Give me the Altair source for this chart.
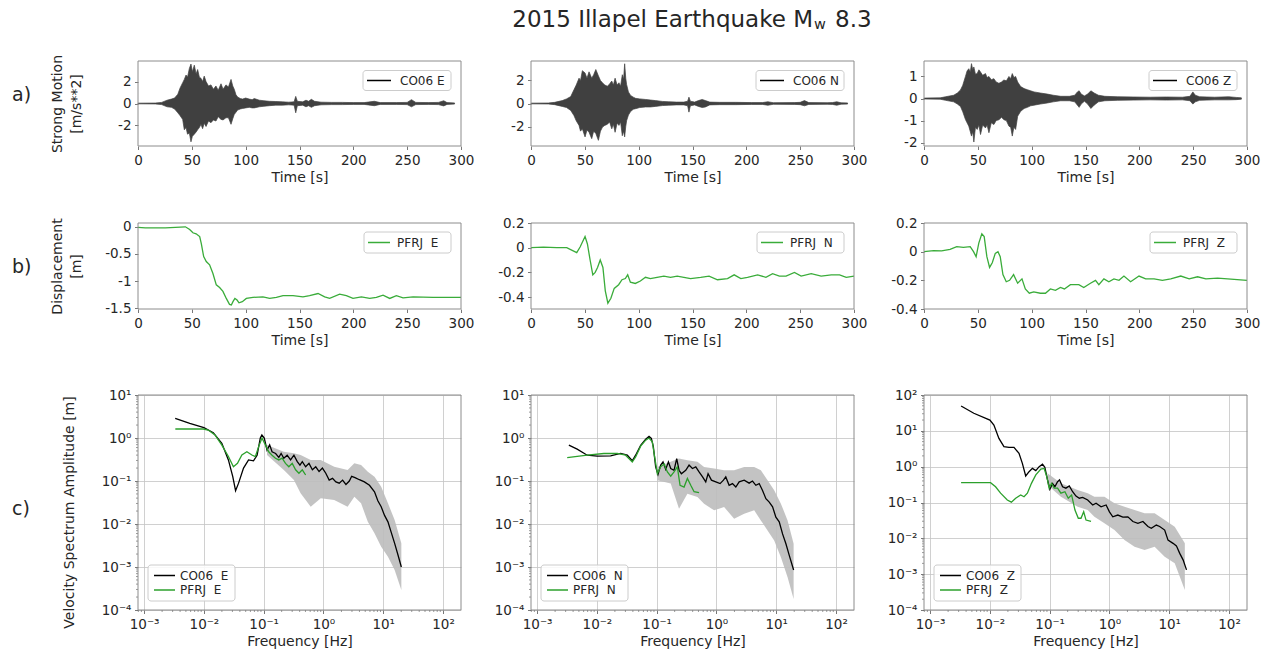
import altair as alt
import pandas as pd

FONT = "DejaVu Sans"
INK = "#262626"
FRAME = "#8c8c8c"
SEIS = "#404040"
GREEN_B = "#3aac3a"
GREEN_C = "#2ca02c"
BAND = "#bdbdbd"

W = 323
HA, HB, HC = 85, 86, 215
HB_PAD = 9  # extra room under row b so that row c starts lower

TIME_TICKS = [0, 50, 100, 150, 200, 250, 300]
FREQ_TICKS = [1e-3, 1e-2, 1e-1, 1, 10, 100]
FREQ_DOMAIN = [7.9e-4, 200]

# ---------------- row a: strong motion (envelope of the trace) ----------------
a_e_t = [0, 16, 22, 27, 31, 34, 37, 39, 41.5, 43, 44.6, 46, 47.7, 49.2, 50.5, 52.3, 54, 55.4, 57, 58.5,
         60, 61.5, 63.2, 65.5, 67.8, 70, 72.4, 74.5, 77.1, 79, 81.7, 84, 86.4, 88, 89.4, 91, 92.5, 95, 97.1, 100,
         103.3, 106, 108, 112.7, 117, 122, 128, 134, 140, 145, 146.5, 148, 153, 156, 158.5, 161, 164, 170, 180, 190,
         200, 210, 219.5, 225, 240, 250, 254, 258, 270, 279, 284, 287, 294]
a_e_up = [0.03, 0.04, 0.1, 0.3, 0.4, 0.5, 0.85, 1.4, 1.9, 2.2, 2.6, 2.4, 3.2, 3.6, 2.9, 3.5, 2.7, 3.1, 2.4, 2.3,
          2.0, 2.5, 2.0, 1.6, 1.7, 1.3, 1.6, 1.2, 1.8, 1.3, 1.7, 1.5, 2.2, 1.6, 1.3, 0.8, 0.6, 0.45, 0.4, 0.5,
          0.4, 0.35, 0.45, 0.3, 0.25, 0.2, 0.18, 0.15, 0.12, 0.15, 0.65, 0.2, 0.15, 0.3, 0.2, 0.38, 0.2, 0.12, 0.1, 0.1,
          0.08, 0.08, 0.2, 0.08, 0.08, 0.1, 0.35, 0.1, 0.08, 0.1, 0.25, 0.08, 0.05]
a_e_lo = [-0.03, -0.04, -0.1, -0.3, -0.35, -0.5, -0.85, -1.1, -1.45, -2.4, -2.2, -2.8, -2.7, -3.5, -3.0, -2.8, -2.6, -2.4, -2.2, -1.9,
          -2.3, -1.8, -2.1, -1.6, -1.75, -1.5, -1.6, -1.2, -1.45, -1.5, -1.3, -1.3, -1.9, -1.4, -1.0, -0.8, -0.6, -0.5, -0.45, -0.4,
          -0.35, -0.4, -0.4, -0.3, -0.25, -0.2, -0.15, -0.15, -0.12, -0.15, -0.85, -0.2, -0.15, -0.3, -0.2, -0.35, -0.2, -0.12, -0.1, -0.1,
          -0.08, -0.08, -0.2, -0.08, -0.08, -0.1, -0.3, -0.1, -0.08, -0.1, -0.22, -0.08, -0.05]

a_n_t = [0, 16, 22, 29, 33, 36.9, 39.9, 42, 44.6, 46, 47.7, 50.2, 52, 53.9, 56.4, 58.2, 60.2, 62.6, 64.5, 66.4,
         68.5, 71, 73, 75, 76.5, 78.1, 80, 81.7, 83.2, 84.8, 86, 87, 88, 88.8, 90.5, 92.5, 95, 97.1, 101, 106.4,
         111, 115.7, 122, 128, 135, 142, 145.5, 146.7, 148, 152, 155.5, 159, 162, 166, 175, 190, 205, 215, 220, 225,
         245, 250, 254, 258, 275, 280, 284, 288, 294]
a_n_up = [0.03, 0.04, 0.1, 0.25, 0.4, 0.6, 1.2, 1.6, 2.2, 2.0, 2.85, 2.65, 2.2, 2.75, 2.2, 2.5, 2.95, 2.4, 2.0, 1.8,
          1.6, 1.5, 1.7, 1.95, 1.6, 2.2, 1.6, 1.8, 1.5, 2.5, 2.1, 3.45, 2.2, 1.65, 1.0, 0.7, 0.55, 0.45, 0.4, 0.35,
          0.3, 0.25, 0.18, 0.15, 0.12, 0.12, 0.2, 0.55, 0.2, 0.12, 0.25, 0.35, 0.25, 0.12, 0.1, 0.1, 0.08, 0.08, 0.15, 0.07,
          0.08, 0.1, 0.25, 0.08, 0.07, 0.08, 0.15, 0.06, 0.05]
a_n_lo = [-0.03, -0.04, -0.1, -0.25, -0.35, -0.6, -1.05, -1.5, -1.9, -2.4, -2.2, -2.9, -2.3, -2.5, -3.05, -2.4, -2.6, -3.2, -2.4, -2.05,
          -1.9, -1.8, -1.6, -2.2, -1.8, -2.5, -1.7, -1.9, -1.6, -2.8, -2.4, -2.9, -2.0, -1.5, -1.0, -0.7, -0.5, -0.45, -0.35, -0.3,
          -0.3, -0.25, -0.18, -0.15, -0.12, -0.12, -0.2, -0.75, -0.2, -0.12, -0.25, -0.35, -0.3, -0.12, -0.1, -0.1, -0.08, -0.08, -0.15, -0.07,
          -0.08, -0.1, -0.2, -0.08, -0.07, -0.08, -0.15, -0.06, -0.05]

a_z_t = [0, 15, 20, 27.6, 31, 33.9, 36, 38.5, 40, 41.6, 43, 44.1, 45.3, 46.3, 47.8, 49.4, 51, 52.5, 54.5, 57.1,
         58.6, 60.3, 62.5, 64.9, 67, 69.6, 72, 74.2, 76.5, 78.9, 80.5, 82, 83.5, 85.1, 87, 89.8, 93, 96, 99, 102.2,
         108, 114.6, 120, 127, 135, 140, 142.5, 144.1, 146, 149, 152, 155, 158, 162, 168, 180, 195, 210, 225, 240,
         247, 249.7, 252, 256, 270, 283, 290, 294.8]
a_z_up = [0.02, 0.03, 0.08, 0.15, 0.25, 0.39, 0.6, 1.0, 1.25, 1.35, 1.2, 1.58, 1.3, 1.43, 1.1, 1.13, 1.3, 1.2, 1.05, 1.13,
          0.95, 1.0, 0.85, 0.9, 0.75, 0.69, 0.75, 0.84, 0.8, 1.0, 0.9, 1.13, 0.95, 1.0, 0.75, 0.54, 0.45, 0.4, 0.35, 0.3,
          0.25, 0.2, 0.15, 0.1, 0.1, 0.15, 0.3, 0.35, 0.2, 0.12, 0.2, 0.35, 0.25, 0.15, 0.1, 0.08, 0.07, 0.06, 0.07, 0.06,
          0.1, 0.3, 0.15, 0.08, 0.06, 0.08, 0.05, 0.03]
a_z_lo = [-0.02, -0.03, -0.08, -0.15, -0.25, -0.36, -0.6, -0.95, -1.1, -1.25, -1.5, -1.7, -1.5, -1.97, -1.3, -1.4, -1.2, -1.63, -1.2, -1.33,
          -1.2, -1.55, -1.1, -1.18, -1.0, -0.96, -0.85, -0.96, -1.0, -1.25, -1.3, -1.7, -1.3, -1.4, -0.8, -0.58, -0.45, -0.4, -0.33, -0.3,
          -0.25, -0.2, -0.15, -0.1, -0.1, -0.15, -0.3, -0.4, -0.25, -0.12, -0.25, -0.45, -0.3, -0.15, -0.1, -0.08, -0.07, -0.06, -0.07, -0.06,
          -0.1, -0.25, -0.15, -0.08, -0.06, -0.06, -0.05, -0.03]

# ---------------- row b: displacement ----------------
b_e_t = [0, 6.8, 25.4, 44, 48, 51, 54, 57.3, 58.8, 61, 63.4, 66.5, 69.6, 72.7, 75.8, 78.9, 82, 85, 86.7, 88.2,
         90, 92, 93.8, 96.9, 100.6, 106.8, 116, 122.3, 128.5, 134.7, 144, 153.2, 159.4, 167.2, 173.4, 178, 187.3, 193.5, 199.7, 207.5,
         215.2, 221.4, 227.6, 233.8, 240, 246.2, 255.5, 274.1, 300]
b_e_d = [-0.01, -0.02, -0.02, 0.0, -0.05, -0.11, -0.13, -0.18, -0.31, -0.55, -0.64, -0.70, -0.86, -1.07, -1.12, -1.19, -1.32, -1.43, -1.44, -1.38,
         -1.32, -1.35, -1.40, -1.38, -1.32, -1.30, -1.29, -1.32, -1.30, -1.27, -1.27, -1.29, -1.27, -1.23, -1.29, -1.32, -1.24, -1.27, -1.32, -1.29,
         -1.32, -1.30, -1.26, -1.32, -1.27, -1.31, -1.29, -1.30, -1.30]

b_n_t = [0, 11.5, 23.9, 33.2, 37.8, 42.5, 45.6, 50.2, 52.4, 54.9, 57.4, 59.6, 61.8, 64.3, 66.8, 69, 71.4, 74.2, 77.3, 81.4,
         84.5, 87.6, 89.8, 92.3, 96.9, 101.6, 106.3, 110.9, 117.1, 123.4, 129.6, 135.8, 142, 148.2, 157.6, 165.4, 173.2, 182.5, 188.7, 194.9,
         201.1, 210.5, 218.2, 224.4, 230.7, 236.9, 244.7, 250.9, 260.2, 269.5, 278.9, 286.6, 292.8, 300]
b_n_d = [0, 0.005, 0, 0, -0.02, -0.04, 0.005, 0.09, 0.03, -0.10, -0.22, -0.20, -0.16, -0.10, -0.16, -0.35, -0.45, -0.41, -0.33, -0.30,
         -0.26, -0.25, -0.22, -0.28, -0.29, -0.27, -0.24, -0.25, -0.24, -0.23, -0.24, -0.23, -0.24, -0.25, -0.24, -0.23, -0.26, -0.25, -0.22, -0.25,
         -0.24, -0.22, -0.24, -0.21, -0.23, -0.23, -0.20, -0.23, -0.21, -0.23, -0.22, -0.22, -0.24, -0.23]

b_z_t = [0, 9, 16.4, 24.2, 30.4, 36.6, 42.9, 46, 48.4, 50.9, 53.7, 55.9, 58.4, 60.9, 63.4, 66.2, 68.7, 70.8, 73.3, 76.4,
         79.5, 83.2, 87, 91, 94.1, 97.8, 101.9, 108.1, 112.8, 117.4, 122.1, 126.7, 130.4, 136, 143.8, 148.4, 154.6, 159.3, 162.4, 167.1,
         171.7, 176.4, 181.1, 185.7, 191.9, 199.7, 205.9, 213.7, 221.4, 229.2, 238.5, 246.3, 254.1, 261.8, 272.7, 282, 300]
b_z_d = [0, 0.007, 0.005, 0.016, 0.035, 0.03, 0.035, 0, -0.035, 0.06, 0.125, 0.105, -0.035, -0.11, -0.077, -0.012, 0, -0.035, -0.16, -0.21,
         -0.20, -0.16, -0.22, -0.19, -0.26, -0.29, -0.28, -0.29, -0.29, -0.26, -0.27, -0.25, -0.26, -0.23, -0.23, -0.25, -0.22, -0.20, -0.23, -0.19,
         -0.21, -0.19, -0.20, -0.17, -0.21, -0.17, -0.19, -0.19, -0.20, -0.19, -0.17, -0.19, -0.175, -0.19, -0.185, -0.19, -0.20]

# ---------------- row c: velocity spectra (log10 of Hz and of m) ----------------
c_e_k_logf = [-2.48, -2.236, -2.0, -1.843, -1.70, -1.59, -1.517, -1.47, -1.42, -1.337, -1.253, -1.17, -1.11, -1.056, -1.03, -0.99,
              -0.944, -0.9, -0.86, -0.80, -0.747, -0.708, -0.663, -0.607, -0.55, -0.494, -0.438, -0.393, -0.354, -0.298, -0.242,
              -0.185, -0.129, -0.073, -0.017, 0.039, 0.096, 0.152, 0.208, 0.264, 0.32, 0.376, 0.433, 0.472, 0.528, 0.601, 0.685,
              0.77, 0.854, 0.91, 0.966, 1.022, 1.079, 1.135, 1.191, 1.247, 1.303]
c_e_k_logA = [0.457, 0.341, 0.24, 0.124, -0.124, -0.51, -0.9, -1.225, -1.05, -0.7, -0.51, -0.53, -0.4, 0.0, 0.07, 0.0,
              -0.28, -0.16, -0.32, -0.36, -0.45, -0.36, -0.47, -0.4, -0.51, -0.4, -0.55, -0.63, -0.55, -0.67, -0.59,
              -0.74, -0.67, -0.78, -0.7, -0.82, -0.98, -0.94, -1.02, -1.05, -0.98, -1.08, -1.0, -0.89, -0.92, -0.97, -1.02,
              -1.1, -1.25, -1.46, -1.6, -1.8, -1.95, -2.2, -2.45, -2.72, -3.0]
c_e_g_logf = [-2.478, -2.011, -1.927, -1.815, -1.702, -1.59, -1.506, -1.438, -1.365, -1.281, -1.197, -1.14, -1.084, -1.028,
              -0.972, -0.916, -0.86, -0.803, -0.747, -0.691, -0.635, -0.579, -0.522, -0.466, -0.41, -0.354, -0.298]
c_e_g_logA = [0.209, 0.209, 0.186, 0.07, -0.16, -0.43, -0.667, -0.59, -0.395, -0.318, -0.395, -0.434, -0.2, 0.0,
              -0.16, -0.32, -0.4, -0.47, -0.51, -0.47, -0.59, -0.67, -0.59, -0.74, -0.82, -0.74, -0.86]
c_e_band_logf = [-0.944, -0.663, -0.494, -0.382, -0.213, -0.045, 0.18, 0.404, 0.517, 0.629, 0.742, 0.854, 0.966, 1.079, 1.191, 1.303]
c_e_band_hi = [-0.163, -0.318, -0.357, -0.395, -0.512, -0.512, -0.667, -0.744, -0.589, -0.628, -0.783, -0.899, -1.132, -1.519, -1.907, -2.45]
c_e_band_lo = [-0.395, -0.744, -0.977, -1.287, -1.597, -1.403, -1.442, -1.597, -1.364, -1.519, -1.946, -2.217, -2.527, -2.76, -3.07, -3.535]

c_n_k_logf = [-2.469, -2.330, -2.162, -1.994, -1.771, -1.603, -1.492, -1.408, -1.352, -1.268, -1.184, -1.128, -1.089, -1.056,
              -1.017, -0.978, -0.933, -0.894, -0.849, -0.804, -0.765, -0.709, -0.665, -0.626, -0.587, -0.514, -0.458, -0.402,
              -0.346, -0.291, -0.235, -0.179, -0.140, -0.084, -0.011, 0.061, 0.117, 0.156, 0.212, 0.268, 0.324, 0.380, 0.464,
              0.547, 0.603, 0.659, 0.715, 0.771, 0.827, 0.883, 0.939, 0.994, 1.050, 1.106, 1.162, 1.218, 1.291]
c_n_k_logA = [-0.166, -0.26, -0.4, -0.42, -0.415, -0.36, -0.4, -0.53, -0.4, -0.17, -0.03, 0.04, -0.01, -0.2,
              -0.67, -0.85, -0.63, -0.555, -0.73, -0.555, -0.71, -0.75, -0.48, -0.75, -0.83, -0.75, -0.63, -0.71,
              -0.67, -0.79, -0.9, -1.02, -0.83, -0.98, -1.02, -1.06, -0.98, -0.905, -1.1, -1.06, -1.14, -1.02, -0.98,
              -1.05, -1.0, -1.1, -1.06, -1.22, -1.41, -1.49, -1.6, -1.84, -1.95, -2.23, -2.46, -2.73, -3.07]
c_n_g_logf = [-2.497, -2.162, -1.883, -1.659, -1.520, -1.408, -1.352, -1.268, -1.184, -1.128, -1.073, -1.034, -0.989,
              -0.933, -0.877, -0.821, -0.765, -0.709, -0.654, -0.609, -0.542, -0.486, -0.430, -0.374, -0.291]
c_n_g_logA = [-0.454, -0.4, -0.36, -0.36, -0.4, -0.555, -0.44, -0.19, -0.05, 0.0, -0.09, -0.44, -0.83,
              -0.67, -0.6, -0.79, -0.89, -0.79, -0.67, -1.1, -1.14, -0.94, -1.1, -1.25, -1.27]
c_n_band_logf = [-0.989, -0.765, -0.626, -0.486, -0.318, -0.207, -0.039, 0.128, 0.296, 0.464, 0.631, 0.743, 0.855, 0.966, 1.078, 1.190, 1.291]
c_n_band_hi = [-0.672, -0.555, -0.477, -0.516, -0.555, -0.672, -0.711, -0.750, -0.750, -0.672, -0.672, -0.750, -0.983, -1.216, -1.527, -1.916, -2.460]
c_n_band_lo = [-0.983, -1.061, -1.644, -1.294, -1.372, -1.527, -1.683, -1.605, -1.877, -1.761, -1.683, -1.916, -2.149, -2.383, -2.771, -3.238, -3.743]

c_z_k_logf = [-2.482, -2.269, -2.0, -1.933, -1.849, -1.765, -1.681, -1.597, -1.513, -1.457, -1.401, -1.345, -1.289, -1.232,
              -1.176, -1.120, -1.081, -1.036, -0.997, -0.952, -0.913, -0.868, -0.835, -0.784, -0.728, -0.672, -0.616, -0.560,
              -0.504, -0.448, -0.364, -0.280, -0.224, -0.140, -0.056, 0.0, 0.056, 0.140, 0.224, 0.308, 0.392, 0.476, 0.560,
              0.644, 0.700, 0.784, 0.840, 0.924, 0.980, 1.064, 1.120, 1.176, 1.232, 1.289]
c_z_k_logA = [1.693, 1.49, 1.30, 1.16, 0.79, 0.56, 0.54, 0.54, 0.37, 0.093, -0.26, -0.14, -0.047, -0.11,
              0.0, 0.07, -0.02, -0.37, -0.63, -0.47, -0.56, -0.42, -0.37, -0.56, -0.6, -0.54, -0.7, -0.82,
              -0.88, -0.86, -0.93, -1.07, -1.02, -1.12, -1.07, -1.26, -1.4, -1.35, -1.41, -1.4, -1.53, -1.58, -1.53,
              -1.67, -1.72, -1.63, -1.67, -1.77, -2.05, -2.14, -2.21, -2.42, -2.6, -2.88]
c_z_g_logf = [-2.482, -1.989, -1.905, -1.821, -1.709, -1.641, -1.569, -1.485, -1.429, -1.373, -1.305, -1.232, -1.148,
              -1.092, -1.048, -1.008, -0.969, -0.924, -0.868, -0.812, -0.745, -0.689, -0.633, -0.577, -0.521, -0.476,
              -0.431, -0.392, -0.308]
c_z_g_logA = [-0.447, -0.447, -0.56, -0.74, -0.93, -0.99, -0.88, -0.79, -0.84, -0.74, -0.465, -0.23, -0.07,
              -0.05, -0.28, -0.6, -0.465, -0.6, -0.6, -0.74, -0.7, -0.88, -0.79, -1.21, -1.44, -1.44,
              -1.26, -1.49, -1.53]
c_z_band_logf = [-1.036, -0.812, -0.532, -0.364, -0.252, -0.084, 0.084, 0.252, 0.420, 0.588, 0.756, 0.924, 1.092, 1.261]
c_z_band_hi = [-0.186, -0.465, -0.651, -0.744, -0.837, -0.837, -1.023, -1.116, -1.209, -1.302, -1.302, -1.488, -1.674, -2.140]
c_z_band_lo = [-0.512, -0.837, -1.116, -1.209, -1.395, -1.581, -1.767, -2.047, -2.233, -2.326, -2.233, -2.512, -2.698, -3.442]

# ------------------------------------------------------------------------------
ONE = pd.DataFrame({"k": [0]})
EXP = "round(log(datum.value)/LN10)"
AEXP = "abs(" + EXP + ")"
LOG_LABEL = ("'10' + (" + EXP + " < 0 ? '\u207b' : '') + (" +
             AEXP + " == 0 ? '\u2070' : " + AEXP + " == 1 ? '\u00b9' : " + AEXP + " == 2 ? '\u00b2' : " +
             AEXP + " == 3 ? '\u00b3' : '\u2074')")


def pow10(vals):
    return [10.0 ** v for v in vals]


def frame_layer(h):
    return alt.Chart(ONE).mark_rect(fillOpacity=0, stroke=FRAME, strokeWidth=1).encode(
        x=alt.value(0), x2=alt.value(W), y=alt.value(0), y2=alt.value(h))


def text_layer(x, y, s, size, align="left", baseline="middle"):
    return alt.Chart(ONE).mark_text(align=align, baseline=baseline, font=FONT,
                                    fontSize=size, color=INK).encode(
        x=alt.value(x), y=alt.value(y), text=alt.value(s))


def legend_layers(entries, box, line_x, ys, text_x):
    x0, x1, y0, y1 = box
    out = [alt.Chart(ONE).mark_rect(fill="white", fillOpacity=0.85, stroke="#cccccc",
                                    strokeWidth=1, cornerRadius=3).encode(
        x=alt.value(x0), x2=alt.value(x1), y=alt.value(y0), y2=alt.value(y1))]
    for (label, color), y in zip(entries, ys):
        out.append(alt.Chart(ONE).mark_rule(color=color, strokeWidth=1.5).encode(
            x=alt.value(line_x[0]), x2=alt.value(line_x[1]), y=alt.value(y)))
        out.append(text_layer(text_x, y, label, 12))
    return out


def time_x(offset=0):
    kw = dict(values=TIME_TICKS, title="Time [s]", labelExpr="toString(datum.value)",
              domain=False, grid=False, labelFlush=False, labelOverlap=False)
    if offset:
        kw["offset"] = offset
    return alt.X("t:Q", scale=alt.Scale(domain=[0, 300], nice=False, zero=False), axis=alt.Axis(**kw))


def y_axis(ticks, title, h, title_x, title_y=None, log=False):
    kw = dict(values=ticks, domain=False, labelOverlap=False)
    kw["labelExpr"] = LOG_LABEL if log else "toString(datum.value)"
    kw["grid"] = log
    if title is None:
        kw["title"] = None
    else:
        kw.update(title=title, titleX=title_x, titleY=(h / 2 if title_y is None else title_y),
                  titleAlign="center", titleBaseline="middle", titleAngle=-90, titleLineHeight=18.5)
    return alt.Axis(**kw)


def seis_panel(t, up, lo, ydom, yticks, label, first=False, extra=None):
    df = pd.DataFrame({"t": t, "up": up, "lo": lo})
    area = alt.Chart(df).mark_area(color=SEIS, stroke=SEIS, strokeWidth=0.7).encode(
        x=time_x(),
        y=alt.Y("up:Q", scale=alt.Scale(domain=ydom, nice=False, zero=False),
                axis=y_axis(yticks, ["Strong Motion", "[m/s**2]"] if first else None, HA, -80.5)),
        y2="lo:Q")
    layers = [area, frame_layer(HA)]
    layers += legend_layers([(label, "black")], (225, 313, 9.5, 29.5), (229, 253), [19.5], 262)
    if first:
        layers.append(text_layer(-126, 34, "a)", 19))
        layers.append(alt.Chart(ONE).mark_rect(fill="white").encode(
            x=alt.value(-133), x2=alt.value(-132), y=alt.value(-56), y2=alt.value(-55)))
    if extra:
        layers += extra
    return alt.layer(*layers).properties(width=W, height=HA)


def disp_panel(t, d, ydom, yticks, label, first=False):
    df = pd.DataFrame({"t": t, "d": d})
    line = alt.Chart(df).mark_line(color=GREEN_B, strokeWidth=1.3).encode(
        x=time_x(offset=-HB_PAD),
        y=alt.Y("d:Q", scale=alt.Scale(domain=ydom, nice=False, zero=False, range=[HB, 0]),
                axis=y_axis(yticks, ["Displacement", "[m]"] if first else None, HB, -80.5)))
    layers = [line, frame_layer(HB)]
    layers += legend_layers([(label, GREEN_B)], (226, 313, 9, 30), (230, 252), [19.5], 259)
    if first:
        layers.append(text_layer(-126, 44, "b)", 19))
    return alt.layer(*layers).properties(width=W, height=HB + HB_PAD)


def spec_panel(k_logf, k_logA, g_logf, g_logA, band_logf, band_hi, band_lo, ymax, comp, first=False):
    xs = alt.Scale(type="log", domain=FREQ_DOMAIN, nice=False)
    ys = alt.Scale(type="log", domain=[1e-4, ymax], nice=False)
    ydec = [v for v in [1e-4, 1e-3, 1e-2, 1e-1, 1, 10, 100] if v <= ymax * 1.0001]
    xaxis = alt.Axis(values=FREQ_TICKS, labelExpr=LOG_LABEL, title="Frequency [Hz]", grid=True,
                     domain=False, labelFlush=False, labelOverlap=False)
    yaxis = y_axis(ydec, "Velocity Spectrum Amplitude [m]" if first else None, HC, -69, 117, log=True)
    band = pd.DataFrame({"f": pow10(band_logf), "hi": pow10(band_hi), "lo": pow10(band_lo)})
    black = pd.DataFrame({"f": pow10(k_logf), "hi": pow10(k_logA)})
    green = pd.DataFrame({"f": pow10(g_logf), "hi": pow10(g_logA)})
    minor_x = [m * 10.0 ** e for e in range(-4, 3) for m in range(2, 10)
               if FREQ_DOMAIN[0] < m * 10.0 ** e < FREQ_DOMAIN[1]]
    minor_y = [m * 10.0 ** e for e in range(-4, 3) for m in range(2, 10) if m * 10.0 ** e < ymax]
    X = alt.X("f:Q", scale=xs, axis=xaxis)
    Y = alt.Y("hi:Q", scale=ys, axis=yaxis)
    layers = [
        alt.Chart(band).mark_area(color=BAND, opacity=0.9).encode(x=X, y=Y, y2="lo:Q"),
        alt.Chart(black).mark_line(color="black", strokeWidth=1.3).encode(x=X, y=Y),
        alt.Chart(green).mark_line(color=GREEN_C, strokeWidth=1.3).encode(x=X, y=Y),
        alt.Chart(pd.DataFrame({"f": minor_x})).mark_rule(color="#555555", strokeWidth=0.6).encode(
            x=X, y=alt.value(HC), y2=alt.value(HC + 2)),
        alt.Chart(pd.DataFrame({"hi": minor_y})).mark_rule(color="#555555", strokeWidth=0.6).encode(
            y=Y, x=alt.value(0), x2=alt.value(-2)),
        frame_layer(HC),
    ]
    layers += legend_layers([("CO06\u00a0 " + comp, "black"), ("PFRJ\u00a0 " + comp, GREEN_C)],
                            (10, 97, 170, 206), (16, 37), [180.5, 195], 42)
    if first:
        layers.append(text_layer(-126, 114, "c)", 19))
    return alt.layer(*layers).properties(width=W, height=HC)


title_layers = [
    text_layer(282, -34, "2015 Illapel Earthquake M", 23, align="right", baseline="alphabetic"),
    text_layer(283, -32, "w", 14.5, align="left", baseline="alphabetic"),
    text_layer(304, -34, "8.3", 23, align="left", baseline="alphabetic"),
]

panels = [
    seis_panel(a_e_t, a_e_up, a_e_lo, [-3.88, 3.88], [-2, 0, 2], "CO06 E", first=True),
    seis_panel(a_n_t, a_n_up, a_n_lo, [-3.69, 3.69], [-2, 0, 2], "CO06 N", extra=title_layers),
    seis_panel(a_z_t, a_z_up, a_z_lo, [-2.15, 1.7], [-2, -1, 0, 1], "CO06 Z"),
    disp_panel(b_e_t, b_e_d, [-1.515, 0.07], [-1.5, -1, -0.5, 0], "PFRJ\u00a0 E", first=True),
    disp_panel(b_n_t, b_n_d, [-0.497, 0.2], [-0.4, -0.2, 0, 0.2], "PFRJ\u00a0 N"),
    disp_panel(b_z_t, b_z_d, [-0.4, 0.2], [-0.4, -0.2, 0, 0.2], "PFRJ\u00a0 Z"),
    spec_panel(c_e_k_logf, c_e_k_logA, c_e_g_logf, c_e_g_logA, c_e_band_logf, c_e_band_hi, c_e_band_lo, 10, "E", first=True),
    spec_panel(c_n_k_logf, c_n_k_logA, c_n_g_logf, c_n_g_logA, c_n_band_logf, c_n_band_hi, c_n_band_lo, 10, "N"),
    spec_panel(c_z_k_logf, c_z_k_logA, c_z_g_logf, c_z_g_logA, c_z_band_logf, c_z_band_hi, c_z_band_lo, 100, "Z"),
]

chart = alt.concat(
    *panels, columns=3, spacing=alt.RowColnumber(row=77, column=70), bounds="flush", align="each"
).properties(
    background="white", padding=5
).resolve_scale(x="independent", y="independent").configure_view(stroke=None).configure_axis(
    labelFont=FONT, titleFont=FONT, labelFontSize=13.5, titleFontSize=14, titleFontWeight="normal",
    labelColor=INK, titleColor=INK, tickColor="#555555", tickSize=3.5, tickWidth=0.8,
    labelPadding=3.5, titlePadding=4, gridColor="#c4c4c4", gridWidth=0.8
)

chart.save("out.html", embed_options={"renderer": "svg", "actions": False})
